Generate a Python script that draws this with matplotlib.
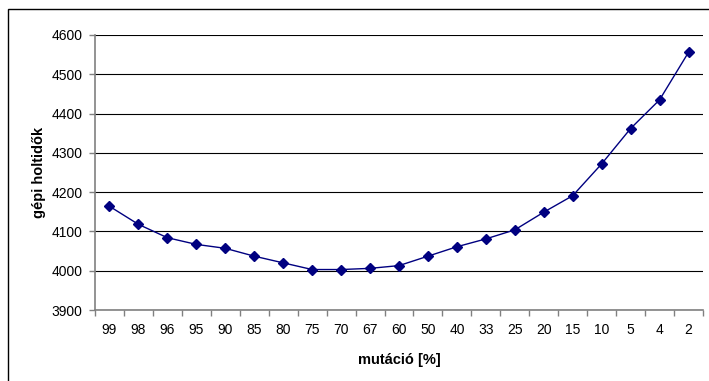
import matplotlib
matplotlib.use('Agg')
import matplotlib.pyplot as plt
from matplotlib.patches import Rectangle

plt.rcParams['font.family'] = ['Liberation Sans', 'DejaVu Sans']

mutacio = ['99', '98', '96', '95', '90', '85', '80', '75', '70', '67', '60',
           '50', '40', '33', '25', '20', '15', '10', '5', '4', '2']
holtidok = [4164, 4118, 4084, 4067, 4057, 4037, 4020, 4003, 4003, 4006, 4013,
            4037, 4061, 4081, 4104, 4149, 4191, 4272, 4362, 4435, 4556]

fig = plt.figure(figsize=(7.09, 3.81), dpi=100)
ax = fig.add_axes([95 / 709, 1 - 310 / 381, 608 / 709, 275 / 381])

# chart area frame (open to the right and bottom)
fig.patches.append(Rectangle((8 / 709, -0.5), 2.0, 0.5 + 1 - 9 / 381,
                             transform=fig.transFigure, fill=False,
                             edgecolor='black', linewidth=1.0))

x = list(range(len(mutacio)))
ax.plot(x, holtidok, color='#000080', linewidth=1.0, marker='D',
        markersize=5, markerfacecolor='#000080', markeredgecolor='#000080',
        zorder=3)

ax.set_ylim(3900, 4600)
ax.set_yticks(range(3900, 4601, 100))
ax.set_xlim(-0.5, len(mutacio) - 0.5)
ax.set_xticks(x)
ax.set_xticklabels(mutacio)
ax.set_xticks([i - 0.5 for i in range(len(mutacio) + 1)], minor=True)

ax.yaxis.grid(True, color='black', linewidth=0.8)
ax.set_axisbelow(True)

for side in ['top', 'right']:
    ax.spines[side].set_visible(False)
for side in ['left', 'bottom']:
    ax.spines[side].set_color('#808080')
    ax.spines[side].set_linewidth(1.2)

ax.tick_params(axis='y', direction='out', length=4, width=1, color='#808080',
               labelsize=10, pad=5)
ax.tick_params(axis='x', which='major', length=0, labelsize=10, pad=9)
ax.tick_params(axis='x', which='minor', direction='out', length=4, width=1,
               color='#808080')

ax.set_ylabel('gépi holtidők', fontsize=10.5, fontweight='bold', labelpad=4)
ax.set_xlabel('mutáció [%]', fontsize=10.5, fontweight='bold', labelpad=12)

fig.savefig('out.png', dpi=100)
